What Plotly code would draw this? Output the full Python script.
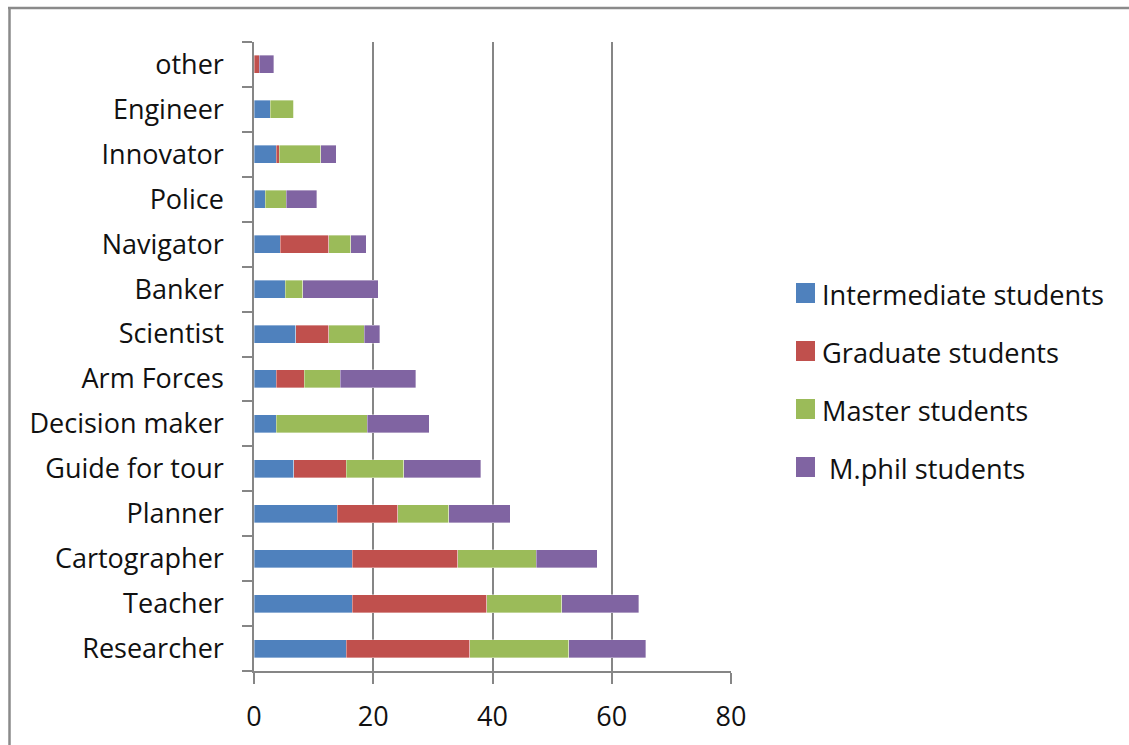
import plotly.graph_objects as go

# Careers listed from the bottom of the chart upward
careers = [
    "Researcher", "Teacher", "Cartographer", "Planner", "Guide for tour",
    "Decision maker", "Arm Forces", "Scientist", "Banker", "Navigator",
    "Police", "Innovator", "Engineer", "other",
]

intermediate = [15.5, 16.5, 16.5, 14.0, 6.7, 3.7, 3.7, 7.0, 5.2, 4.4, 1.9, 3.7, 2.7, 0.0]
graduate     = [20.7, 22.5, 17.7, 10.1, 8.8, 0.0, 4.7, 5.5, 0.0, 8.1, 0.0, 0.5, 0.0, 0.9]
master       = [16.6, 12.6, 13.1, 8.6, 9.6, 15.3, 6.1, 6.0, 3.0, 3.7, 3.5, 7.0, 4.0, 0.0]
mphil        = [12.9, 12.9, 10.3, 10.3, 12.9, 10.4, 12.6, 2.6, 12.6, 2.6, 5.1, 2.6, 0.0, 2.4]

series_names = ["Intermediate students", "Graduate students", "Master students", " M.phil students"]
series_values = [intermediate, graduate, master, mphil]
series_colors = ["#4F81BD", "#C0504D", "#9BBB59", "#8064A2"]

x_ticks = [0, 20, 40, 60, 80]

FONT = "Open Sans"
GREY = "#868686"
TEXT = "#111111"

fig = go.Figure()
for name, vals, col in zip(series_names, series_values, series_colors):
    fig.add_trace(go.Bar(
        y=careers, x=vals, name=name, orientation="h",
        marker=dict(color=col, line=dict(width=0.6, color="rgba(255,255,255,0.6)")),
        showlegend=False, hoverinfo="skip",
    ))

# plot area spans pixels 254..731 horizontally and 42..671 vertically
W, H = 1129, 745
L, R, T, B = 254, 731, 42, 671


def px_x(p):
    return (p - L) / (R - L)


def px_y(p):
    return (B - p) / (B - T)


shapes = [
    # outer chart frame (top and left edges)
    dict(type="line", xref="paper", yref="paper", x0=px_x(8), x1=px_x(1135),
         y0=px_y(8), y1=px_y(8), line=dict(color="#8a8a8a", width=2.5)),
    dict(type="line", xref="paper", yref="paper", x0=px_x(9.5), x1=px_x(9.5),
         y0=px_y(8), y1=px_y(760), line=dict(color="#8a8a8a", width=2.5)),
]

# hand-placed legend: coloured squares with labels to their right
annotations = []
legend_centers = [293, 351, 409, 467]
for name, col, cy in zip(series_names, series_colors, legend_centers):
    shapes.append(dict(type="rect", xref="paper", yref="paper",
                       x0=px_x(796), x1=px_x(815), y0=px_y(cy + 10), y1=px_y(cy - 10),
                       fillcolor=col, line=dict(width=0)))
    annotations.append(dict(xref="paper", yref="paper", x=px_x(820), y=px_y(cy + 1),
                            xanchor="left", yanchor="middle", text=name, showarrow=False,
                            font=dict(family=FONT, size=27.2, color=TEXT)))

fig.update_layout(
    barmode="stack",
    bargap=0.6,
    width=W, height=H,
    margin=dict(l=L, r=W - R, t=T, b=H - B),
    paper_bgcolor="white", plot_bgcolor="white",
    font=dict(family=FONT, size=27, color=TEXT),
    shapes=shapes,
    annotations=annotations,
    xaxis=dict(
        range=[0, 80], tickvals=x_ticks, ticktext=[str(v) for v in x_ticks],
        showgrid=True, gridcolor=GREY, gridwidth=1.5,
        showline=True, linecolor=GREY, linewidth=1.5,
        ticks="outside", ticklen=11, tickcolor=GREY, tickwidth=1.5,
        ticklabelstandoff=10, zeroline=False,
    ),
    yaxis=dict(
        categoryorder="array", categoryarray=careers,
        showline=True, linecolor=GREY, linewidth=1.5,
        ticks="outside", ticklen=10, tickcolor=GREY, tickwidth=1.5,
        tickson="boundaries", ticklabelstandoff=23, showgrid=False,
    ),
)

fig.write_html("out.html")
